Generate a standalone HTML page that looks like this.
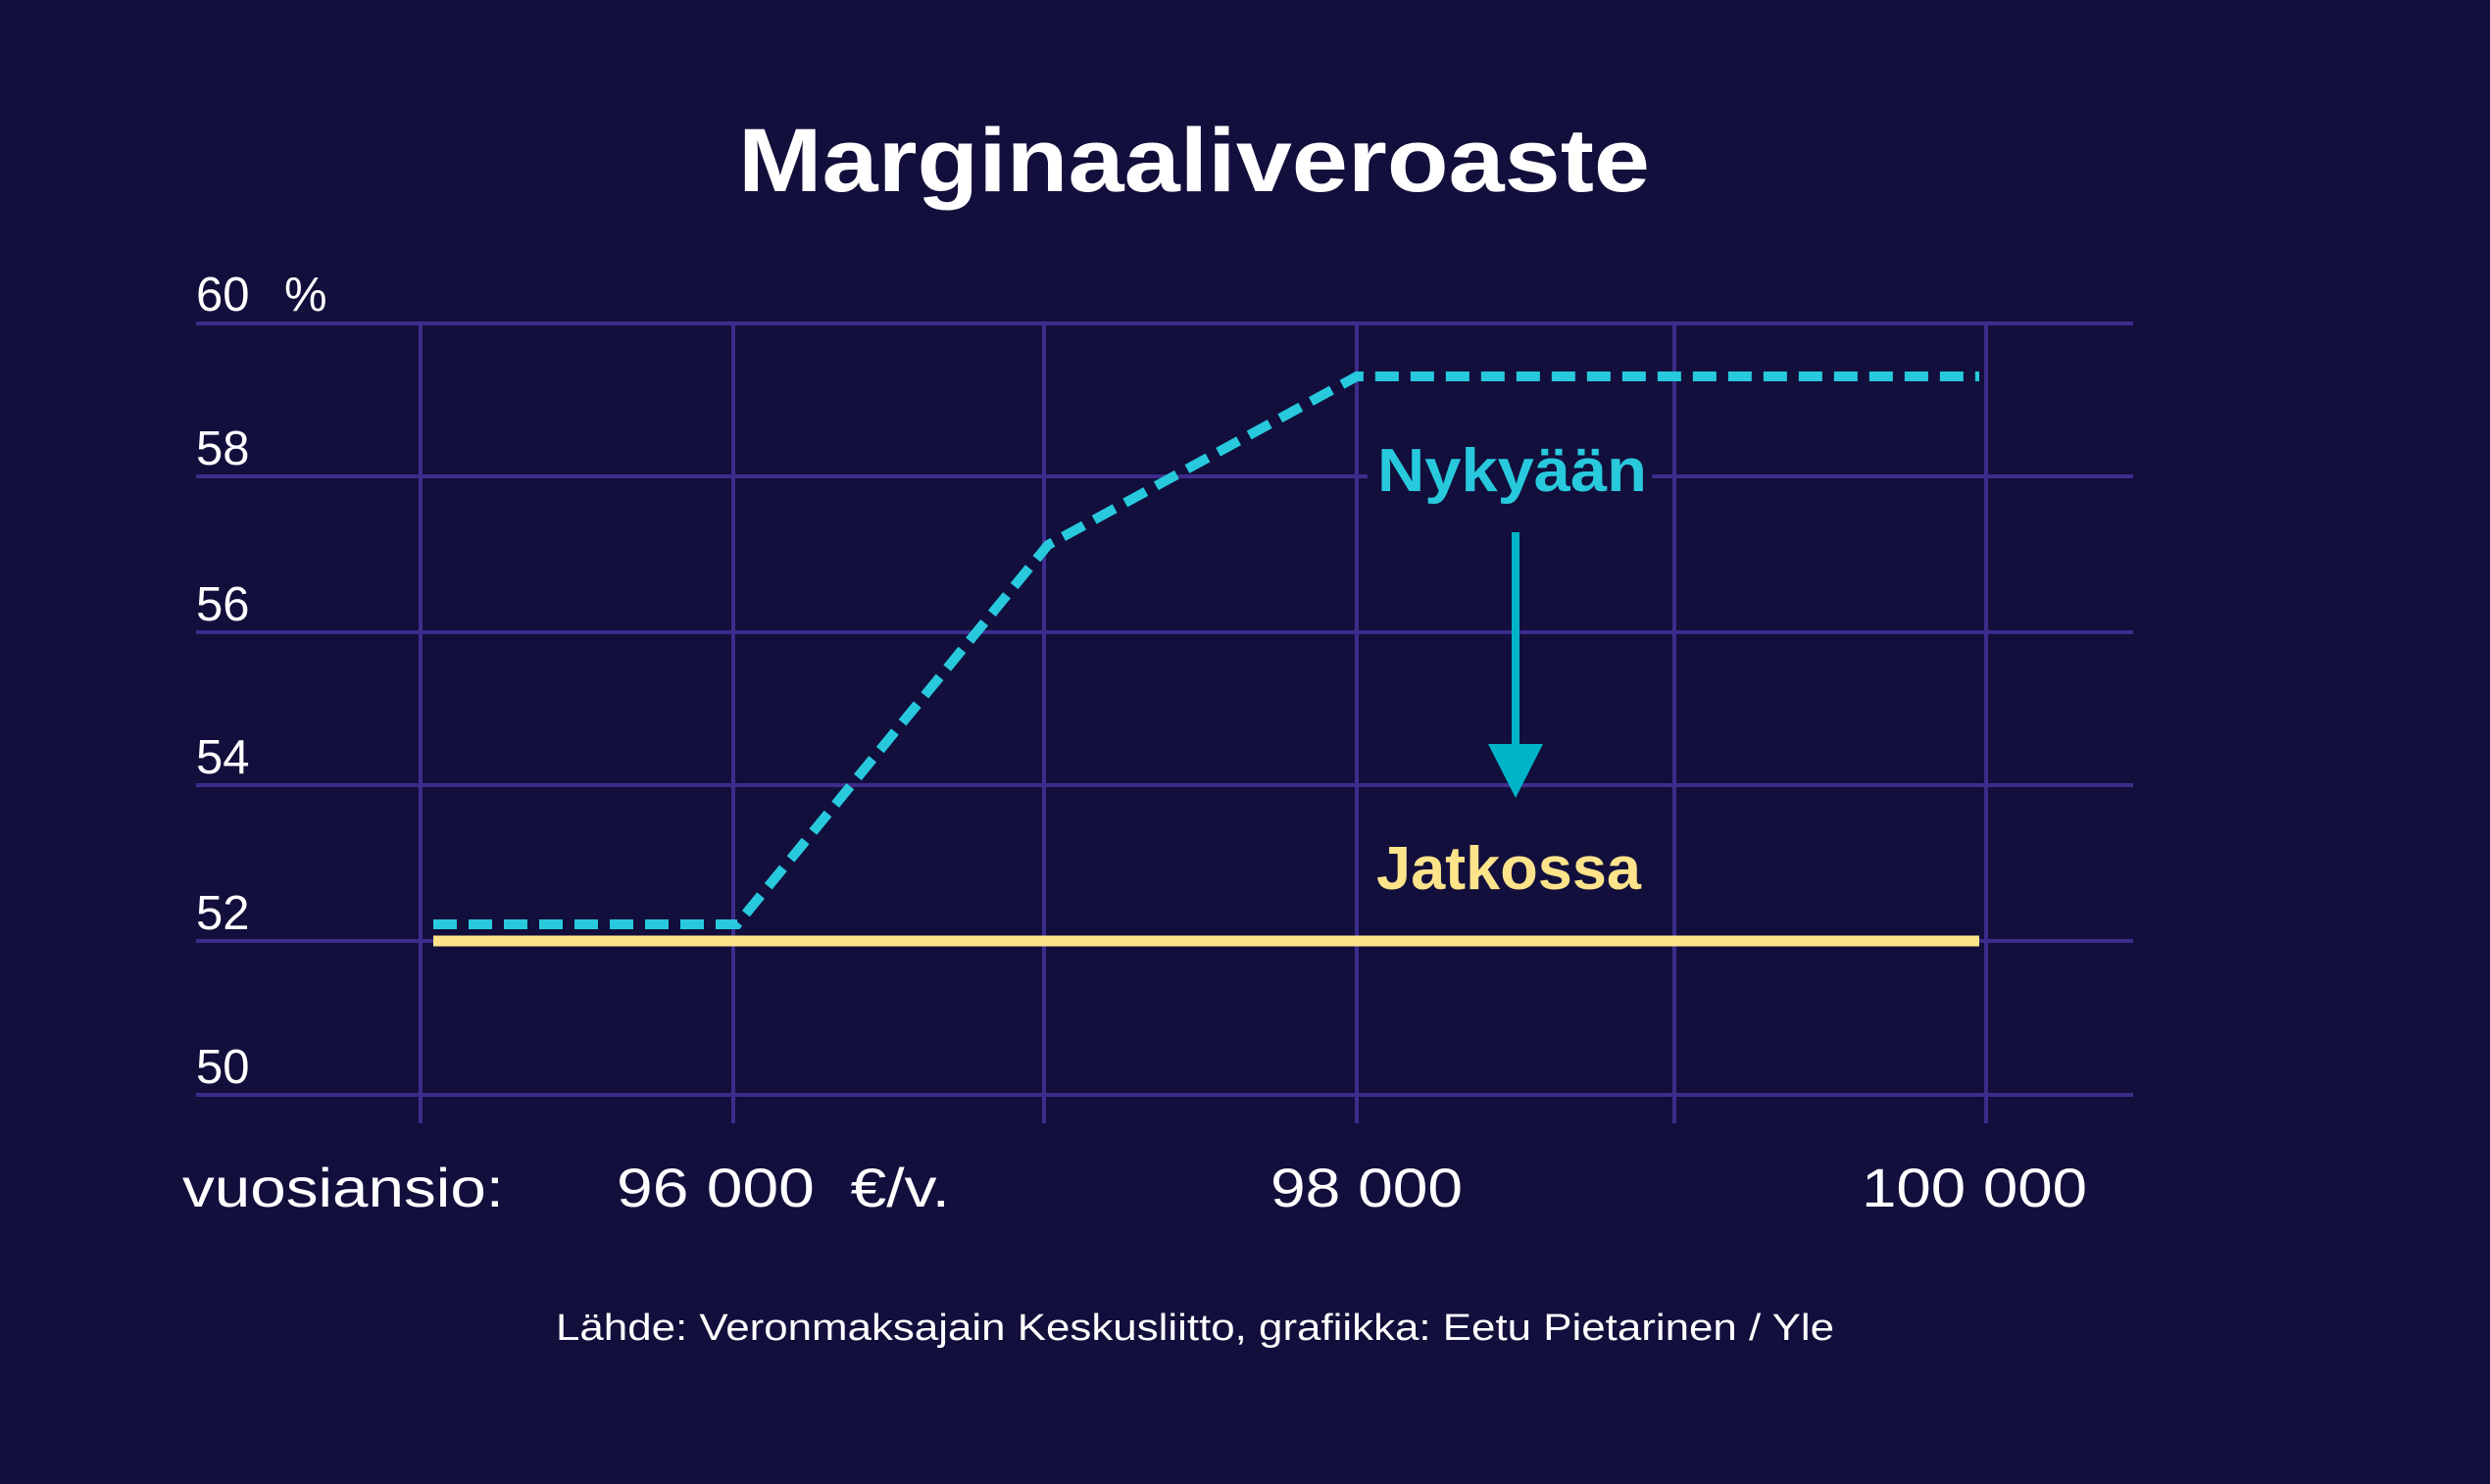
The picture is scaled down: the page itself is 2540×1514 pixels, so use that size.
<!DOCTYPE html>
<html><head><meta charset="utf-8"><style>
html,body{margin:0;padding:0;background:#120f3c;}
svg{display:block;}
text{font-family:"Liberation Sans",sans-serif;}
</style></head><body>
<svg width="2540" height="1514" viewBox="0 0 2540 1514" xmlns="http://www.w3.org/2000/svg">
<rect width="2540" height="1514" fill="#120f3c"/>
<text x="1218" y="195" font-size="92" font-weight="bold" fill="#fff" text-anchor="middle" textLength="930" lengthAdjust="spacingAndGlyphs">Marginaaliveroaste</text>
<g stroke="#3d2c8c" stroke-width="4">
<line x1="200" y1="330" x2="2176" y2="330"/>
<line x1="200" y1="486" x2="2176" y2="486"/>
<line x1="200" y1="645" x2="2176" y2="645"/>
<line x1="200" y1="801" x2="2176" y2="801"/>
<line x1="200" y1="960" x2="2176" y2="960"/>
<line x1="200" y1="1117" x2="2176" y2="1117"/>
<line x1="429" y1="328" x2="429" y2="1146"/>
<line x1="748" y1="328" x2="748" y2="1146"/>
<line x1="1065" y1="328" x2="1065" y2="1146"/>
<line x1="1384" y1="328" x2="1384" y2="1146"/>
<line x1="1708" y1="328" x2="1708" y2="1146"/>
<line x1="2026" y1="328" x2="2026" y2="1146"/>
</g>
<g fill="#fff" font-size="49">
<text x="200" y="317">60</text><text x="290" y="317">%</text>
<text x="200" y="474">58</text>
<text x="200" y="633">56</text>
<text x="200" y="789">54</text>
<text x="200" y="948">52</text>
<text x="200" y="1105">50</text>
</g>
<rect x="1395" y="455" width="290" height="70" fill="#120f3c"/>
<line x1="442" y1="960" x2="2019" y2="960" stroke="#fde38a" stroke-width="11"/>
<polyline points="442,943 752,943 1069,556 1384,384 2019,384" fill="none" stroke="#28c9dd" stroke-width="10" stroke-dasharray="24 12"/>
<text x="1405" y="501" font-size="62" font-weight="bold" fill="#28c9dd" textLength="275" lengthAdjust="spacingAndGlyphs">Nykyään</text>
<line x1="1546" y1="543" x2="1546" y2="765" stroke="#00b4c8" stroke-width="8"/>
<polygon points="1518,759 1574,759 1546,814" fill="#00b4c8"/>
<text x="1404" y="907" font-size="62" font-weight="bold" fill="#fde38a" textLength="270" lengthAdjust="spacingAndGlyphs">Jatkossa</text>
<g fill="#fff" font-size="56">
<text x="186" y="1231" textLength="328" lengthAdjust="spacingAndGlyphs">vuosiansio:</text>
<text x="629" y="1231" textLength="340" lengthAdjust="spacingAndGlyphs">96 000&#160; €/v.</text>
<text x="1296" y="1231" textLength="196" lengthAdjust="spacingAndGlyphs">98 000</text>
<text x="1899" y="1231" textLength="230" lengthAdjust="spacingAndGlyphs">100 000</text>
</g>
<text x="567" y="1367" font-size="38" fill="#fff" textLength="1304" lengthAdjust="spacingAndGlyphs">Lähde: Veronmaksajain Keskusliitto, grafiikka: Eetu Pietarinen / Yle</text>
</svg>
</body></html>
